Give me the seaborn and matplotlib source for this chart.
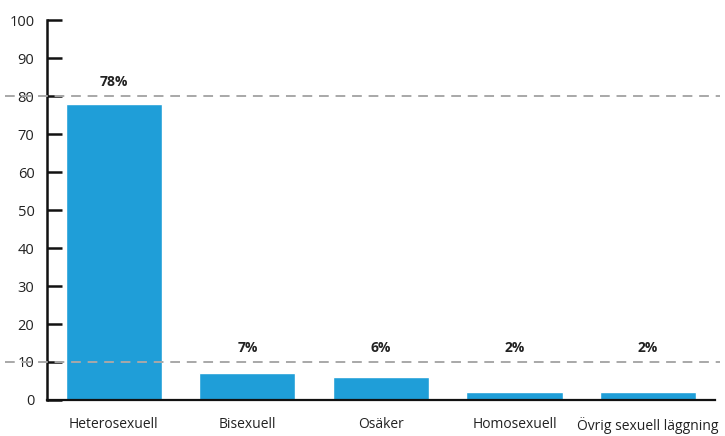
import pandas as pd
import seaborn as sns
import matplotlib.pyplot as plt

# Data
categories = ["Heterosexuell", "Bisexuell", "Osäker", "Homosexuell", "Övrig sexuell läggning"]
values = [78, 7, 6, 2, 2]
ref_lines = [80, 10]

df = pd.DataFrame({"kategori": categories, "andel": values})

sns.set_theme(style="white")
plt.rcParams['font.family'] = ['Open Sans', 'DejaVu Sans']

fig = plt.figure(figsize=(7.25, 4.36), dpi=100)
ax = fig.add_axes([0.0648, 0.0826, 0.9212, 0.8714])

sns.barplot(data=df, x="kategori", y="andel", color="#1f9ed8", saturation=1,
            width=0.72, ax=ax, zorder=2)

ax.set_ylim(0, 100)
ax.set_xlim(-0.5, 4.5)
ax.set_yticks(range(0, 101, 10))
ax.set_xlabel("")
ax.set_ylabel("")

# Referenslinjer (sträckas utanför axeln)
for y in ref_lines:
    ax.axhline(y, xmin=-0.063, xmax=1.007, color="#a8a8a8", lw=1.4,
               ls=(0, (5, 3.5)), clip_on=False, zorder=3)

# Etiketter ovanför närmaste referenslinje
for i, v in enumerate(values):
    base = ref_lines[0] if v > ref_lines[1] else ref_lines[1]
    ax.text(i, base + 3.6, f"{v}%", ha="center", va="center",
            fontsize=10, fontweight="bold", color="#222222")

for s in ["top", "right"]:
    ax.spines[s].set_visible(False)
ax.spines["left"].set_linewidth(1.8)
ax.spines["bottom"].set_linewidth(1.6)
ax.spines["left"].set_color("#111111")
ax.spines["bottom"].set_color("#111111")

ax.tick_params(axis="y", direction="in", length=11, width=1.8, color="#111111",
               labelsize=10.5, labelcolor="#222222", pad=9, left=True)
ax.tick_params(axis="x", length=0, labelsize=10, labelcolor="#222222", pad=12)

plt.savefig("out.png", dpi=100)
plt.close()
